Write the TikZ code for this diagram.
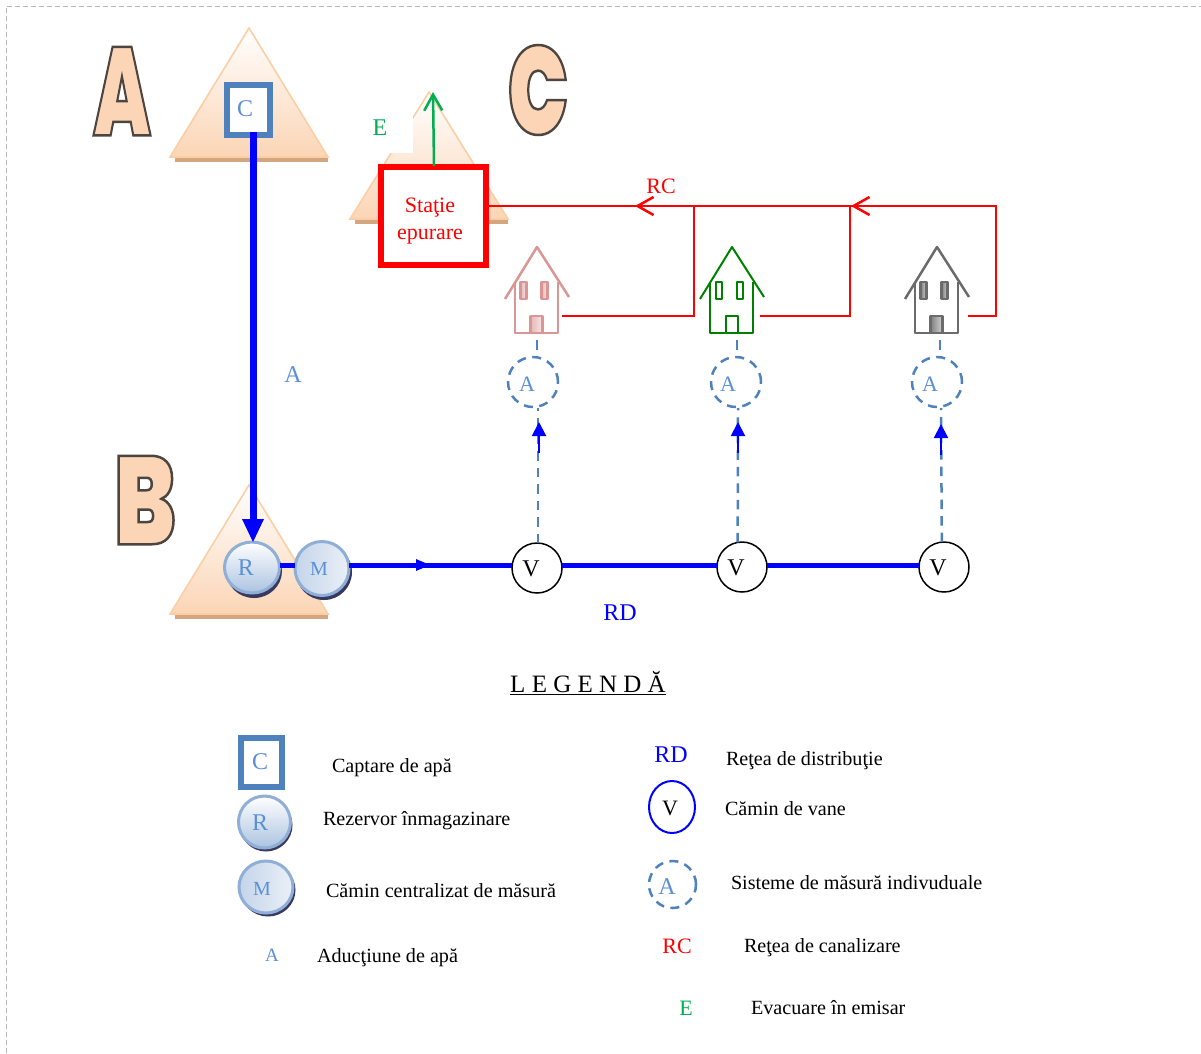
\documentclass[tikz,border=0pt]{standalone}
\usepackage{fontspec}
\setmainfont{Liberation Serif}
\newfontfamily\bigfont{Poppins Black}[FakeStretch=0.72]
\usetikzlibrary{arrows.meta,shapes.geometric,calc,shadings}
\definecolor{blueA}{HTML}{4F81BD}
\definecolor{blueT}{HTML}{5B8FD6}
\definecolor{tan1}{HTML}{FBD5B5}
\definecolor{tan2}{HTML}{FBCFA5}
\definecolor{tanbar}{HTML}{D4A67F}
\definecolor{greenE}{HTML}{00B050}
\definecolor{pinkH}{HTML}{D99694}
\definecolor{pinkD}{HTML}{E5B8B7}
\definecolor{greenH}{HTML}{008000}
\definecolor{grayH}{HTML}{6B6B6B}
\definecolor{grayD}{HTML}{808080}
\definecolor{rim}{HTML}{8FAFD6}
\definecolor{discb}{HTML}{ABC3E0}
\newcommand{\mountain}[3]{% apex x, apex y, base y
  \fill[tanbar] (#1-74,#3) rectangle (#1+79,#3+5);
  \draw[draw=tan2,line width=1.6pt,top color=white,bottom color=tan1]
    (#1,#2) -- (#1-79,#3) -- (#1+79,#3) -- cycle;
}
\newcommand{\houseat}[4]{% apex x, colour, door fill, line width
  \begin{scope}[shift={(#1,0)},draw=#2,line width=#4,line join=round]
    \draw (-32,299) -- (0,247) -- (32,297);
    \draw (-22,282) -- (-22,333) -- (21,333) -- (21,282);
    \draw[left color=#3,right color=#3!35] (-16.5,282) rectangle (-10.5,299);
    \draw[left color=#3,right color=#3!35] (4.5,282) rectangle (10.5,299);
    \draw[left color=#3,right color=#3!35] (-6.5,316) rectangle (5.5,333);
  \end{scope}
}
\tikzset{
  x=1pt,y=-1pt,
  every node/.style={font=\fontsize{20.15}{23}\selectfont,inner sep=0pt,outer sep=0pt},
  lbl/.style={anchor=west,text=black},
  bluetxt/.style={text=blueT,font=\fontsize{24}{26}\selectfont},
  bigletter/.style={font=\bigfont\fontsize{125}{125}\selectfont,text=tan1},
  squareC/.style={draw=blueA,line width=6pt,fill=white},
  disc/.style={ellipse,draw=rim,line width=3pt,top color=white,bottom color=discb},
  discm/.style={ellipse,draw=rim,line width=3pt,left color=discb!70,right color=discb!25},
  discshadow/.style={ellipse,fill=gray!75!blue!60!black},
  valve/.style={circle,draw=black,line width=1.5pt,fill=white,minimum size=50pt,font=\fontsize{24}{26}\selectfont},
  meter/.style={circle,draw=blueA,line width=2.5pt,dash pattern=on 9pt off 6.5pt,minimum size=50pt},
  thickblue/.style={draw=blue,line width=5pt},
  dashblue/.style={draw=blueA,line width=2.5pt,dash pattern=on 9.5pt off 7pt},
  redline/.style={draw=red,line width=2.5pt},
  openarrow/.style={-{Straight Barb[length=16pt,width=18pt,line width=2.5pt]}},
  tipblue/.style={draw=blue,line width=2pt,-{Triangle[length=14pt,width=14pt]}},
}
\begin{document}
\begin{tikzpicture}
\useasboundingbox (0,0) rectangle (1201,1053);
% page frame
\draw[gray!55,line width=1pt,dash pattern=on 5pt off 3pt] (6,1053) -- (6,6) -- (1201,6);

% big letters
\node[bigletter,xscale=0.82,transform shape] (LA) at (122,91) {\special{pdf:code 2 Tr 2.5 w 0.3 0.27 0.25 RG}A\special{pdf:code 0 Tr}};
\node[bigletter] (LB) at (145,500) {\special{pdf:code 2 Tr 2.5 w 0.3 0.27 0.25 RG}B\special{pdf:code 0 Tr}};
\node[bigletter,xscale=0.89,transform shape] (LC) at (538,90) {\special{pdf:code 2 Tr 2.5 w 0.3 0.27 0.25 RG}C\special{pdf:code 0 Tr}};

% mountains
\mountain{249}{28}{157}
\mountain{249}{485}{614}
\mountain{429}{92}{219}
\fill[white] (375,95) rectangle (413,153);

% source
\node[squareC,minimum width=43pt,minimum height=50pt] (C) at (248.5,110) {};
\node[bluetxt] (Ct) at (245,109) {C};

% reservoir and meter
\coordinate (bus) at (0,565);
\node[discshadow,minimum width=56pt,minimum height=54pt] (Rs) at (254,571) {};
\node[discshadow,minimum width=56pt,minimum height=56pt] (Ms) at (324,572) {};
\node[disc,minimum width=55pt,minimum height=51pt] (R) at (252,567.5) {};
\node[bluetxt,font=\fontsize{24}{26}\selectfont] (Rt) at (246,568) {R};
\node[discm,minimum width=54pt,minimum height=54pt] (M) at (322,568.5) {};
\node[bluetxt,font=\fontsize{20}{24}\selectfont] (Mt) at (319,569) {M};

% valves
\node[valve] (V1) at (537,568) {};
\node[valve] (V2) at (742,567) {};
\node[valve] (V3) at (944,567) {};
\node[font=\fontsize{24}{26}\selectfont] (V1t) at (531,569) {V};
\node[font=\fontsize{24}{26}\selectfont] (V2t) at (736,568) {V};
\node[font=\fontsize{24}{26}\selectfont] (V3t) at (938,568) {V};

% main lines
\draw[draw=blue,line width=7pt] (C.south -| 253,0) ++(0,-3) -- (253,524);
\fill[blue] (242,519) -- (264,519) -- (253,542) -- cycle;
\draw[thickblue] (R.east |- bus) -- (M.west |- bus);
\draw[thickblue] (M.east |- bus) -- (V1.west |- bus);
\draw[thickblue] (V1.east |- bus) -- (V2.west |- bus);
\draw[thickblue] (V2.east |- bus) -- (V3.west |- bus);
\fill[blue] (416,559) -- (430,565) -- (416,571) -- cycle;

% station
\node[draw=red,line width=6pt,fill=white,minimum width=105pt,minimum height=98pt] (S) at (433.5,216) {};
\node[text=red,align=center,font=\fontsize{22}{27}\selectfont] (St) at (430,221.5) {Staţie\\epurare};
\coordinate (Etop) at (433,92);
\draw[draw=greenE,line width=2.5pt,openarrow] (S.north) ++(0.5,-1) -- (Etop);
\node[text=greenE,font=\fontsize{24}{26}\selectfont] (Elbl) at (380,128) {E};

% houses
\houseat{537}{pinkH}{pinkD}{2.5pt}
\houseat{732}{greenH}{white}{2pt}
\houseat{937}{grayH}{grayD}{2.5pt}
\coordinate (h1) at (537,333);
\coordinate (h2) at (737,333);
\coordinate (h3) at (940,333);
\coordinate (r1) at (562,316);
\coordinate (r2) at (760,316);
\coordinate (r3) at (968,316);
\coordinate (j1) at (694,206);
\coordinate (j2) at (850,206);
\coordinate (c3) at (996,206);

% sewer
\draw[redline] (S.east |- j1) -- (j1) -- (j2) -- (c3) -- (r3 -| c3) -- (r3);
\draw[redline] (r1) -- (r1 -| j1) -- (j1);
\draw[redline] (r2) -- (r2 -| j2) -- (j2);
\draw[draw=red,line width=2.5pt,openarrow] (652,206) -- (635,206);
\draw[draw=red,line width=2.5pt,openarrow] (868,206) -- (851,206);
\node[text=red,font=\fontsize{22}{24}\selectfont] (RClbl) at (661,186) {RC};

% meters
\node[meter] (A1) at (533,382) {};
\node[meter] (A2) at (736,382) {};
\node[meter] (A3) at (937,382) {};
\node[bluetxt,font=\fontsize{22}{24}\selectfont] at (527,384) (A1t) {A};
\node[bluetxt,font=\fontsize{22}{24}\selectfont] at (728,384) (A2t) {A};
\node[bluetxt,font=\fontsize{22}{24}\selectfont] at (930,384) (A3t) {A};
\draw[dashblue] (V1.90) ++(1,0) -- (538,408);
\draw[dashblue] (V2.100) -- (738,408);
\draw[dashblue] (V3.95) -- (941,408);
\draw[tipblue] (539,453) -- (539,422);
\draw[tipblue] (738,453) -- (738,422);
\draw[tipblue] (941,455) -- (941,424);
\draw[dashblue] (h1) ++(0,7) -- (h1 |- A1.north);
\draw[dashblue] (h2) ++(0,7) -- (h2 |- A2.north);
\draw[dashblue] (h3) ++(0,7) -- (h3 |- A3.north);

\node[text=blueT,font=\fontsize{24}{26}\selectfont] (Albl) at (293,375) {A};
\node[text=blue,font=\fontsize{24}{26}\selectfont] (RDlbl) at (620,613) {RD};

% legend
\node[font=\fontsize{25}{26}\selectfont] (Ttl) at (588,683.5) {\underline{L E G E N D Ă}};

\node[squareC,minimum width=41pt,minimum height=49pt] (lC) at (261.5,762.5) {};
\node[bluetxt] (lCt) at (260,762) {C};
\node[discshadow,minimum width=53pt,minimum height=53pt] (lRs) at (266,825) {};
\node[disc,minimum width=52pt,minimum height=52pt] (lR) at (264.5,822) {};
\node[bluetxt] (lRt) at (260,823) {R};
\node[discshadow,minimum width=55pt,minimum height=53pt] (lMs) at (268,890) {};
\node[discm,minimum width=54pt,minimum height=52pt] (lM) at (266,887) {};
\node[bluetxt,font=\fontsize{20}{24}\selectfont] (lMt) at (262,889) {M};
\node[text=blueT,font=\fontsize{19}{22}\selectfont] (lA) at (272,955) {A};

\node[lbl] (t1) at (332,768) {Captare de apă};
\node[lbl] (t2) at (323,821) {Rezervor înmagazinare};
\node[lbl] (t3) at (326,891) {Cămin centralizat de măsură};
\node[lbl] (t4) at (317,958) {Aducţiune de apă};

\node[text=blue,font=\fontsize{24}{26}\selectfont] (lRD) at (671,755) {RD};
\node[lbl] (t5) at (726,761) {Reţea de distribuţie};
\node[ellipse,draw=blue,line width=2pt,fill=white,minimum width=46pt,minimum height=52pt] (lV) at (672,807) {};
\node[font=\fontsize{22}{24}\selectfont] (lVt) at (670,808) {V};
\node[lbl] (t6) at (725,809) {Cămin de vane};
\node[meter,minimum size=47pt] (lAm) at (672.5,884.5) {};
\node[bluetxt] (lAt) at (667,887) {A};
\node[lbl] (t7) at (731,883) {Sisteme de măsură indivuduale};
\node[text=red,font=\fontsize{22}{24}\selectfont] (lRC) at (677,946) {RC};
\node[lbl] (t8) at (744,948) {Reţea de canalizare};
\node[text=greenE,font=\fontsize{22}{24}\selectfont] (lE) at (686,1008) {E};
\node[lbl] (t9) at (751,1008) {Evacuare în emisar};
\end{tikzpicture}
\end{document}
